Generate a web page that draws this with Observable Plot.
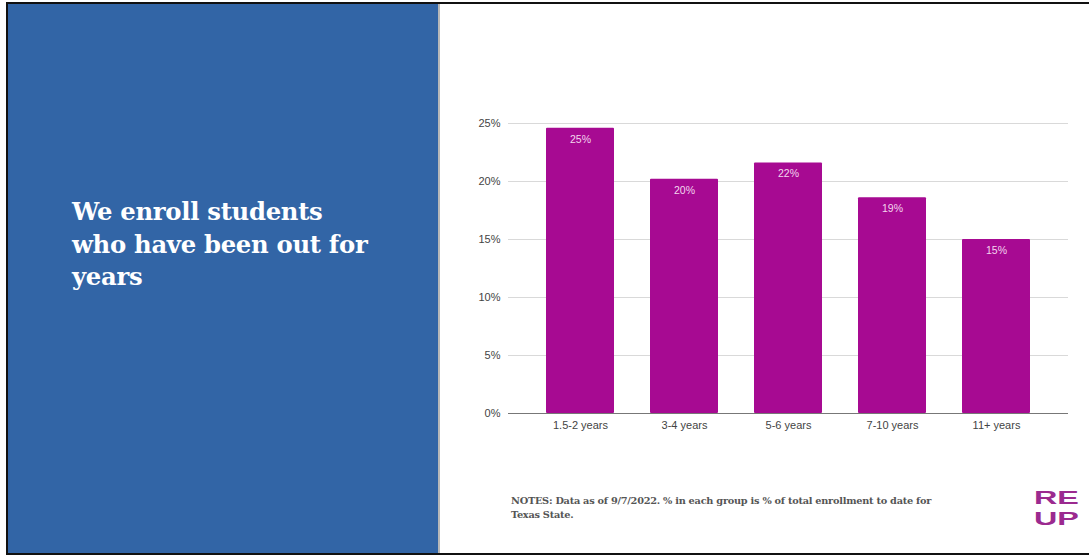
<!DOCTYPE html>
<html>
<head>
<meta charset="utf-8">
<script src="https://cdn.jsdelivr.net/npm/d3@7"></script>
<script src="https://cdn.jsdelivr.net/npm/@observablehq/plot@0.6"></script>
<style>
  html, body { margin: 0; padding: 0; width: 1089px; height: 556px; overflow: hidden; background: #fff; }
  #frame { position: absolute; left: 0; top: 0; width: 1089px; height: 556px; }
  #topline { position: absolute; left: 6px; top: 2px; width: 1083px; height: 2px; background: #111; }
  #bottomline { position: absolute; left: 6px; top: 553px; width: 1083px; height: 2px; background: #111; }
  #leftline { position: absolute; left: 6px; top: 2px; width: 2px; height: 553px; background: #111; }
  #blue { position: absolute; left: 8px; top: 4px; width: 430px; height: 549px; background: #3265a6; }
  #sep { position: absolute; left: 438px; top: 4px; width: 2px; height: 549px; background: #b8b8b8; }
  #title { position: absolute; left: 72px; top: 196px; width: 360px; color: #fff; white-space: nowrap;
           font-family: "DejaVu Serif", serif; font-weight: bold; font-size: 24.3px; line-height: 32.5px; letter-spacing: -0.3px; }
  #chart { position: absolute; left: 440px; top: 100px; }
  #notes { position: absolute; left: 511px; top: 494px; width: 460px; color: #555; white-space: nowrap;
           font-family: "DejaVu Serif", serif; font-weight: bold; font-size: 9.75px; line-height: 14px; letter-spacing: -0.25px; }
  .logo { position: absolute; left: 1034px; color: #9b2a8f; font-family: "Liberation Sans", Arial, sans-serif;
          font-weight: bold; font-size: 19px; line-height: 20px; height: 20px; letter-spacing: 0px;
          transform: scaleX(1.7); transform-origin: left top; }
</style>
</head>
<body>
<div id="frame">
  <div id="blue"></div>
  <div id="sep"></div>
  <div id="topline"></div>
  <div id="bottomline"></div>
  <div id="leftline"></div>
  <div id="title">We enroll students<br>who have been out for<br>years</div>
  <div id="chart"></div>
  <div id="notes">NOTES: Data as of 9/7/2022. % in each group is % of total enrollment to date for<br>Texas State.</div>
  <div class="logo" style="top:488px">RE</div>
  <div class="logo" style="top:509px">UP</div>
</div>
<script>
const categories = ["1.5-2 years", "3-4 years", "5-6 years", "7-10 years", "11+ years"];
const values = [24.6, 20.2, 21.6, 18.6, 15.0];
const yTicks = [0, 5, 10, 15, 20, 25];

const data = categories.map((c, i) => ({category: c, value: values[i], label: Math.round(values[i]) + "%"}));

const chart = Plot.plot({
  width: 649,
  height: 340,
  marginLeft: 68,
  marginRight: 21,
  marginTop: 23,
  marginBottom: 27,
  style: {fontFamily: "'Liberation Sans', Arial, sans-serif", fontSize: "11px", color: "#444", background: "transparent"},
  x: {domain: categories, padding: 0.35, label: null, tickSize: 0, tickPadding: 8},
  y: {domain: [0, 25], ticks: yTicks, tickFormat: d => d + "%", label: null, tickSize: 0, tickPadding: 8},
  marks: [
    Plot.gridY(yTicks.filter(t => t > 0), {stroke: "#d9d9d9", strokeOpacity: 1, strokeWidth: 1}),
    Plot.barY(data, {x: "category", y: "value", fill: "#a70a92", rx: 1}),
    Plot.ruleY([0], {stroke: "#777", strokeWidth: 1.2}),
    Plot.text(data, {x: "category", y: "value", text: "label", dy: 11, fill: "#f3d6ee", fontSize: 10.5})
  ]
});
document.getElementById("chart").appendChild(chart);
</script>
</body>
</html>
